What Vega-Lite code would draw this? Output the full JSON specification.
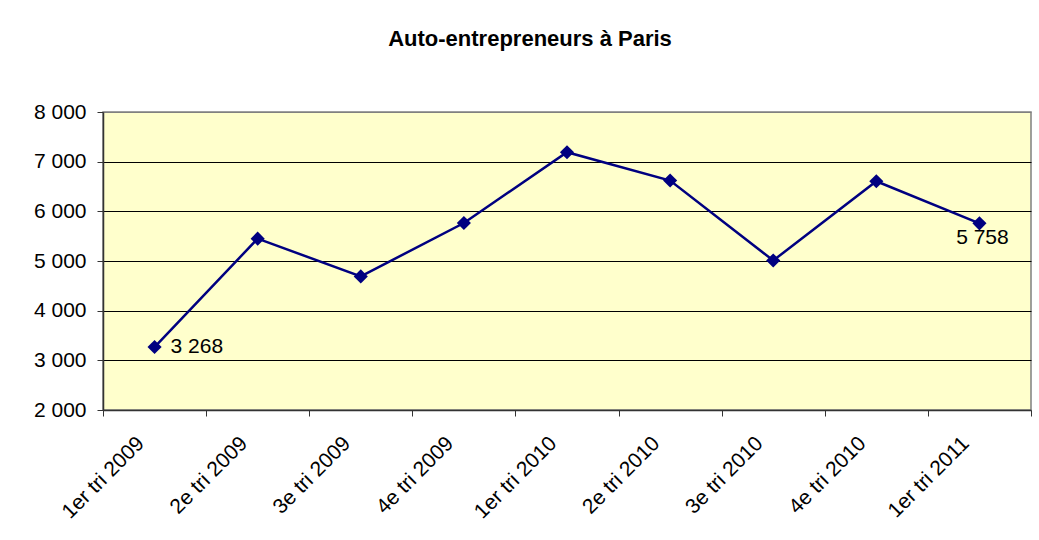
{
  "$schema": "https://vega.github.io/schema/vega-lite/v6.json",
  "autosize": "none",
  "width": 928,
  "height": 298,
  "padding": {"left": 103, "top": 112, "right": 8, "bottom": 130},
  "background": "white",
  "title": {
    "text": "Auto-entrepreneurs à Paris",
    "font": "Liberation Sans",
    "fontSize": 22,
    "fontWeight": "bold",
    "color": "black",
    "anchor": "middle",
    "frame": "group",
    "baseline": "alphabetic",
    "offset": 33,
    "dx": -37
  },
  "config": {
    "locale": {"number": {"decimal": ",", "thousands": " ", "grouping": [3], "currency": ["", " €"]}},
    "view": {"fill": "#FFFFCC", "stroke": "#808080", "strokeWidth": 1.5},
    "font": "Liberation Sans"
  },
  "data": {
    "values": [
      {"trimestre": "1er tri 2009", "valeur": 3268, "etiquette": "3 268", "pos": "right"},
      {"trimestre": "2e tri 2009", "valeur": 5450, "etiquette": "", "pos": ""},
      {"trimestre": "3e tri 2009", "valeur": 4690, "etiquette": "", "pos": ""},
      {"trimestre": "4e tri 2009", "valeur": 5765, "etiquette": "", "pos": ""},
      {"trimestre": "1er tri 2010", "valeur": 7190, "etiquette": "", "pos": ""},
      {"trimestre": "2e tri 2010", "valeur": 6620, "etiquette": "", "pos": ""},
      {"trimestre": "3e tri 2010", "valeur": 5010, "etiquette": "", "pos": ""},
      {"trimestre": "4e tri 2010", "valeur": 6605, "etiquette": "", "pos": ""},
      {"trimestre": "1er tri 2011", "valeur": 5758, "etiquette": "5 758", "pos": "below"}
    ]
  },
  "encoding": {
    "x": {
      "field": "trimestre",
      "type": "ordinal",
      "sort": null,
      "scale": {"type": "band", "paddingInner": 0, "paddingOuter": 0},
      "axis": {
        "title": null,
        "tickBand": "extent",
        "grid": false,
        "domainColor": "#333333",
        "domainWidth": 1.5,
        "tickColor": "#333333",
        "tickSize": 6,
        "labelAngle": -45,
        "labelAlign": "right",
        "labelBaseline": "middle",
        "labelPadding": 24,
        "labelOffset": -14,
        "labelFontSize": 21,
        "labelColor": "black",
        "labelFont": "Liberation Sans"
      }
    },
    "y": {
      "field": "valeur",
      "type": "quantitative",
      "scale": {"domain": [2000, 8000], "nice": false, "zero": false},
      "axis": {
        "title": null,
        "values": [2000, 3000, 4000, 5000, 6000, 7000, 8000],
        "format": ",d",
        "grid": true,
        "gridColor": {"condition": {"test": "datum.value == 8000 || datum.value == 2000", "value": "#808080"}, "value": "#000000"},
        "gridWidth": 1,
        "domainColor": "#333333",
        "domainWidth": 1.5,
        "tickColor": "#333333",
        "tickSize": 6,
        "labelPadding": 11,
        "labelFontSize": 21,
        "labelColor": "black",
        "labelFont": "Liberation Sans"
      }
    }
  },
  "layer": [
    {"mark": {"type": "line", "color": "#000080", "strokeWidth": 2.5}},
    {"mark": {"type": "point", "shape": "diamond", "filled": true, "color": "#000080", "size": 200, "opacity": 1}},
    {
      "transform": [{"filter": "datum.pos == 'right'"}],
      "mark": {"type": "text", "align": "left", "baseline": "middle", "dx": 16, "fontSize": 21, "color": "black", "font": "Liberation Sans"},
      "encoding": {"text": {"field": "etiquette"}}
    },
    {
      "transform": [{"filter": "datum.pos == 'below'"}],
      "mark": {"type": "text", "align": "center", "baseline": "alphabetic", "dy": 21, "dx": 3, "fontSize": 21, "color": "black", "font": "Liberation Sans"},
      "encoding": {"text": {"field": "etiquette"}}
    }
  ]
}
